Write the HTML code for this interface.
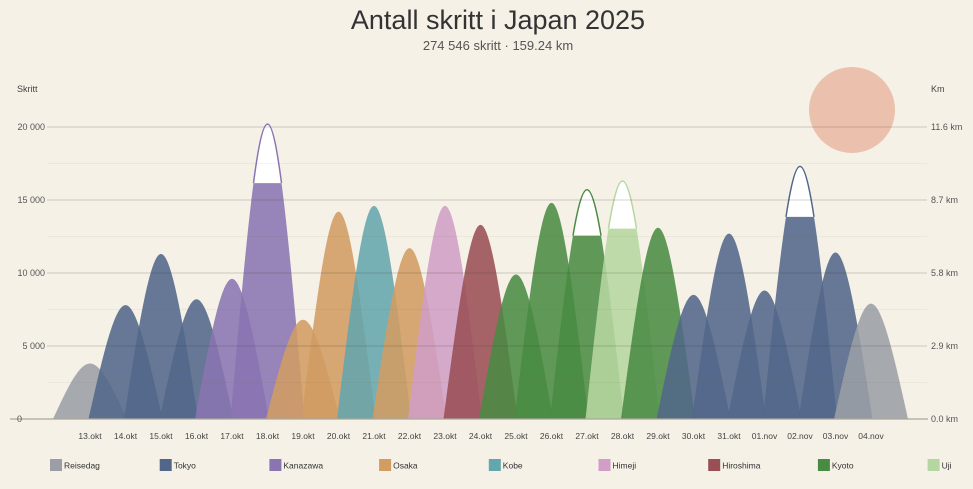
<!DOCTYPE html>
<html><head><meta charset="utf-8"><style>
body{margin:0;background:#f5f1e7;width:973px;height:489px;overflow:hidden;font-family:"Liberation Sans",sans-serif}
svg{display:block}
</style></head><body>
<svg id="s" width="973" height="489" xmlns="http://www.w3.org/2000/svg">
<text x="498" y="29" text-anchor="middle" font-size="27" fill="#333">Antall skritt i Japan 2025</text>
<text x="498" y="50" text-anchor="middle" font-size="13" fill="#555">274 546 skritt · 159.24 km</text>
<text x="17" y="92" font-size="9" fill="#444">Skritt</text>
<text x="931" y="92" font-size="9" fill="#444">Km</text>
<circle cx="852" cy="110" r="43" fill="#ebc0ad"/>
<g id="peaks"></g>
<g id="grid"></g>
<g id="leg"></g>
</svg>
<script>
const NS="http://www.w3.org/2000/svg";
const B=419,K=0.0146,x0=90,dx=35.5,W=37;
const C={R:"#9b9ea6",T:"#52668a",Ka:"#8a74b2",O:"#d29c62",Ko:"#64a6ad",H:"#d09ec6",Hi:"#9a4f55",Ky:"#4a8b43",U:"#b6d6a1"};
const d=[["R",3800],["T",7800],["T",11300],["T",8200],["Ka",9600],["Ka",20200],["O",6800],["O",14200],["Ko",14600],["O",11700],["H",14600],["Hi",13300],["Ky",9900],["Ky",14800],["Ky",15700],["U",16300],["Ky",13100],["T",8500],["T",12700],["T",8800],["T",17300],["T",11400],["R",7900]];
const labs=["13.okt","14.okt","15.okt","16.okt","17.okt","18.okt","19.okt","20.okt","21.okt","22.okt","23.okt","24.okt","25.okt","26.okt","27.okt","28.okt","29.okt","30.okt","31.okt","01.nov","02.nov","03.nov","04.nov"];
function el(t,a,p){const e=document.createElementNS(NS,t);for(const k in a)e.setAttribute(k,a[k]);p.appendChild(e);return e;}
const P=document.getElementById("peaks"),G=document.getElementById("grid"),L=document.getElementById("leg");
const defs=el("defs",{},P);
d.forEach((v,i)=>{const x=x0+i*dx,h=v[1]*K,T=B-h;
 const path=`M${x-W},${B} C${x-0.62*W},${B-0.55*h} ${x-0.3*W},${T} ${x},${T} C${x+0.3*W},${T} ${x+0.62*W},${B-0.55*h} ${x+W},${B} Z`;
 el("path",{d:path,fill:C[v[0]],"fill-opacity":0.88},P);
 if(v[1]>15000){const cy=B-0.8*h;
  const cp=el("clipPath",{id:"c"+i},defs);
  el("rect",{x:x-W,y:0,width:2*W,height:cy},cp);
  el("path",{d:path,fill:"#fff",stroke:C[v[0]],"stroke-width":1.5,"clip-path":`url(#c${i})`},P);}
 el("text",{x:x,y:439,"text-anchor":"middle","font-size":8.5,fill:"#444"},G).textContent=labs[i];
});
for(let k=1;k<=8;k++){const y=B-k*2500*K;
 el("line",{x1:47,x2:927,y1:y,y2:y,stroke:k%2?"rgba(120,100,60,0.07)":"rgba(60,55,45,0.22)","stroke-width":1},G);}
el("line",{x1:10,x2:928,y1:B,y2:B,stroke:"#aaa69c","stroke-width":1.2},G);
const yl=["0","5 000","10 000","15 000","20 000"],kl=["0.0 km","2.9 km","5.8 km","8.7 km","11.6 km"];
for(let k=0;k<5;k++){const y=B-k*5000*K+3;
 el("text",{x:k?45:22,y:y,"text-anchor":"end","font-size":9,fill:"#555"},G).textContent=yl[k];
 el("text",{x:931,y:y,"font-size":9,fill:"#555"},G).textContent=kl[k];}
const lg=[["R","Reisedag"],["T","Tokyo"],["Ka","Kanazawa"],["O","Osaka"],["Ko","Kobe"],["H","Himeji"],["Hi","Hiroshima"],["Ky","Kyoto"],["U","Uji"]];
lg.forEach((v,i)=>{const x=50+i*109.7;
 el("rect",{x:x,y:459,width:12,height:12,fill:C[v[0]]},L);
 el("text",{x:x+14,y:468.5,"font-size":8.5,fill:"#333"},L).textContent=v[1];});
</script>
</body></html>
